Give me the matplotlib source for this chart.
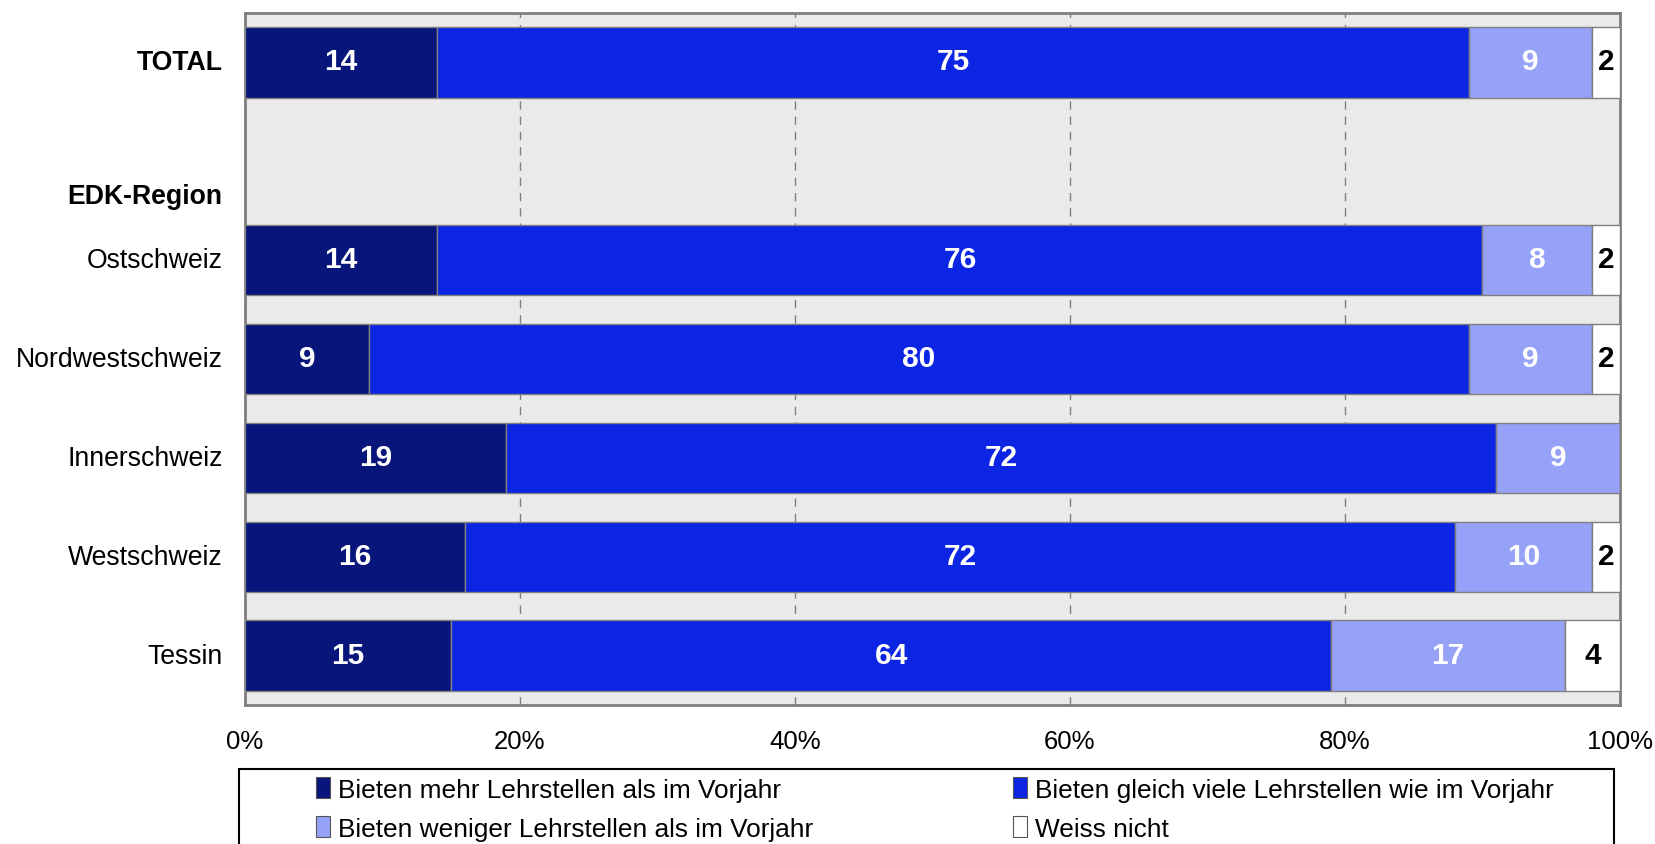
import numpy as np
import matplotlib.pyplot as plt
from matplotlib.patches import Rectangle, Patch
from matplotlib.transforms import blended_transform_factory

plt.rcParams['font.family'] = ['Liberation Sans', 'DejaVu Sans']

# ---- data ----
rows = ["TOTAL", "Ostschweiz", "Nordwestschweiz", "Innerschweiz", "Westschweiz", "Tessin"]
row_pos = [0, 2, 3, 4, 5, 6]
mehr = [14, 14, 9, 19, 16, 15]
gleich = [75, 76, 80, 72, 72, 64]
weniger = [9, 8, 9, 9, 10, 17]
weiss_nicht = [2, 2, 2, 0, 2, 4]

series = [mehr, gleich, weniger, weiss_nicht]
series_names = ["Bieten mehr Lehrstellen als im Vorjahr",
                "Bieten gleich viele Lehrstellen wie im Vorjahr",
                "Bieten weniger Lehrstellen als im Vorjahr",
                "Weiss nicht"]
colors = ["#08157a", "#0b25e2", "#96a2f8", "#ffffff"]
text_colors = ["white", "white", "white", "black"]
x_ticks = [0, 20, 40, 60, 80, 100]
x_ticklabels = ["0%", "20%", "40%", "60%", "80%", "100%"]

fig = plt.figure(figsize=(16.56, 8.45), dpi=100)
ax = fig.add_axes([245/1656, 1 - 706/845, 1375/1656, 692/845])
ax.set_facecolor("#eaeaea")

left = np.zeros(len(rows))
for vals, col, tcol in zip(series, colors, text_colors):
    vals = np.array(vals, dtype=float)
    ax.barh(row_pos, vals, left=left, height=0.71, color=col,
            edgecolor="#7f7f7f", linewidth=1, zorder=3)
    for y, l, v in zip(row_pos, left, vals):
        if v > 0:
            ax.text(l + v / 2, y - 0.01, f"{int(v)}", ha="center", va="center",
                    color=tcol, fontsize=21.5, fontweight="bold", zorder=4)
    left += vals

ax.set_xlim(0, 100)
ax.set_ylim(6.5, -0.5)

# dashed vertical gridlines
for x in x_ticks[1:-1]:
    ax.axvline(x, color="#7f7f7f", linestyle=(0, (6, 5)), linewidth=1, zorder=1)

ax.set_xticks(x_ticks)
ax.set_xticklabels(x_ticklabels, fontsize=18.5)
ax.tick_params(axis="x", length=0, pad=17)

ax.set_yticks([p - 0.03 for p in row_pos])
ax.set_yticklabels(rows, fontsize=19.2)
ax.tick_params(axis="y", length=0, pad=16)
ax.get_yticklabels()[0].set_fontweight("bold")

# group header
trans = blended_transform_factory(ax.transAxes, ax.transData)
ax.text(-23 / 1375, 1.35, "EDK-Region", transform=trans, ha="right", va="center",
        fontsize=19.2, fontweight="bold")

for s in ax.spines.values():
    s.set_color("#7f7f7f")
    s.set_linewidth(2)

# legend with frame running past the bottom edge
fig.patches.append(Rectangle((239/1656, -0.05), 1375/1656, 75/845 + 0.05,
                             transform=fig.transFigure, fill=False,
                             edgecolor="black", linewidth=1.5))
handles = [Patch(facecolor=c, edgecolor="#555555", linewidth=0.8) for c in colors]
order = [0, 2, 1, 3]
fig.legend([handles[i] for i in order], [series_names[i] for i in order],
           ncol=2, loc="upper left",
           bbox_to_anchor=(316/1656, 1 - 778/845), frameon=False,
           fontsize=18.9, handlelength=0.55, handleheight=0.85, handletextpad=0.3,
           columnspacing=7.6, labelspacing=0.55, borderpad=0, borderaxespad=0)

fig.savefig("out.png", dpi=100)
